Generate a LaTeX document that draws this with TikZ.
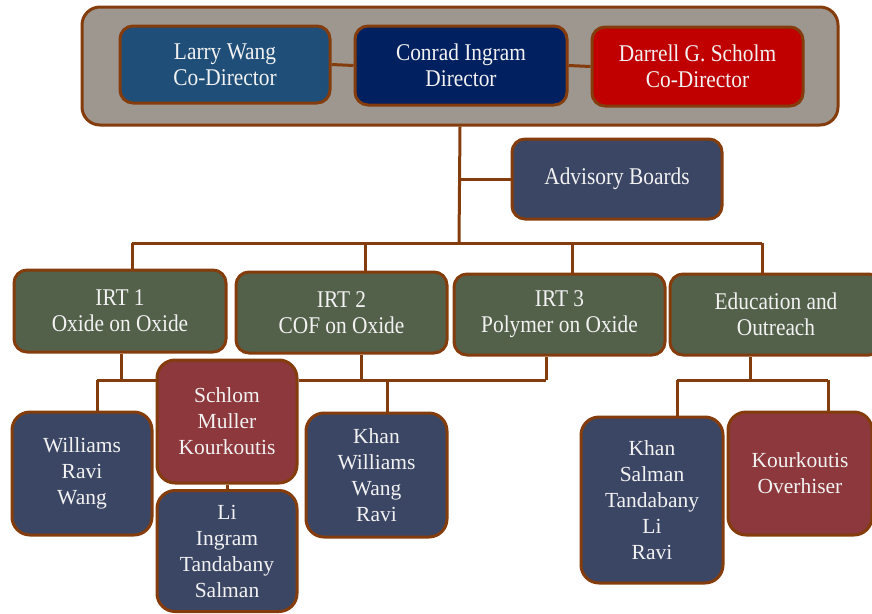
\documentclass[tikz,border=0pt]{standalone}
\usepackage{fontspec}
\setmainfont{Liberation Serif}
\newfontfamily\narrowserif[FakeStretch=0.89]{Liberation Serif}
\definecolor{rim}{RGB}{132,60,12}
\definecolor{shell}{RGB}{158,151,144}
\definecolor{steel}{RGB}{31,78,121}
\definecolor{navy}{RGB}{0,32,96}
\definecolor{crimson}{RGB}{192,0,0}
\definecolor{slate}{RGB}{59,70,100}
\definecolor{olive}{RGB}{83,96,74}
\definecolor{wine}{RGB}{140,56,60}
\begin{document}
\begin{tikzpicture}
  [x=1pt,y=-1pt,
   every node/.style={draw=rim,line width=3pt,rounded corners=13pt,
     text=white!95!black,align=center,inner sep=0pt,
     font=\fontsize{21.5}{26}\selectfont},
   box/.style 2 args={minimum width=#1pt,minimum height=#2pt},
   top/.style={font=\narrowserif\fontsize{24}{26}\selectfont},
   link/.style={draw=rim,line width=3pt},
   lead/.style={fill=navy},
   codir/.style={fill=steel},
   codir2/.style={fill=crimson},
   irt/.style={fill=olive},
   team/.style={fill=slate,rounded corners=18pt},
   core/.style={fill=wine,rounded corners=18pt}]

  \useasboundingbox (0,0) rectangle (872,613);

  % leadership
  \node [fill=shell,box={756}{118},rounded corners=18pt] (board) at (460,66) {};
  \node [codir,top,box={210}{77}] (wang) at (225,64.5) {Larry Wang\\Co-Director};
  \node [lead,top,box={212}{79}] (ingram) at (461,65.5) {Conrad Ingram\\Director};
  \node [codir2,top,box={211}{79}] (scholm) at (697.5,66.5) {Darrell G. Scholm\\Co-Director};
  \draw [link] (wang.east) -- (ingram.west);
  \draw [link] (ingram.east) -- (scholm.west);

  \node [team,top,box={210}{80},rounded corners=13pt] (advisory) at (617,179) {Advisory Boards};

  % research teams
  \node [irt,top,box={212}{82}] (irt1) at (120,311) {IRT 1\\Oxide on Oxide};
  \node [irt,top,box={211}{81}] (irt2) at (341.5,312.5) {IRT 2\\COF on Oxide};
  \node [irt,top,box={211}{81}] (irt3) at (559.5,314.5) {IRT 3\\Polymer on Oxide};
  \node [irt,top,box={212}{81}] (edu) at (776,314.5) {Education and\\Outreach};

  % members
  \node [team,box={140}{123}] (m1) at (82,473.5) {Williams\\Ravi\\Wang};
  \node [core,box={140}{123}] (m2) at (227,421.5) {Schlom\\Muller\\Kourkoutis};
  \node [team,box={140}{121}] (m3) at (227,551) {Li\\Ingram\\Tandabany\\Salman};
  \node [team,box={141}{124}] (m4) at (376.5,475) {Khan\\Williams\\Wang\\Ravi};
  \node [team,box={142}{166}] (m5) at (652,500) {Khan\\Salman\\Tandabany\\Li\\Ravi};
  \node [core,box={144}{123}] (m6) at (800,473.5) {Kourkoutis\\Overhiser};

  % tree
  \coordinate (hub) at (459,243);
  \coordinate (b1) at (132,243);
  \coordinate (b2) at (365,243);
  \coordinate (b3) at (572,243);
  \coordinate (b4) at (762,243);
  \draw [link] (board.south) -- (hub);
  \draw [link] (board.south |- advisory) -- (advisory.west);
  \draw [link] (b1) -- (b4);
  \draw [link] (b1) -- (b1 |- irt1.north);
  \draw [link] (b2) -- (b2 |- irt2.north);
  \draw [link] (b3) -- (b3 |- irt3.north);
  \draw [link] (b4) -- (b4 |- edu.north);

  \coordinate (l1) at (97,380);
  \coordinate (l2) at (546,380);
  \coordinate (t1) at (121,380);
  \coordinate (t2) at (361,380);
  \coordinate (t4) at (387,380);
  \draw [link] (l1) -- (l1 -| m2.west);
  \draw [link] (l2) -- (l2 -| m2.east);
  \draw [link] (l1) -- (l1 |- m1.north);
  \draw [link] (t1) -- (t1 |- irt1.south);
  \draw [link] (t2) -- (t2 |- irt2.south);
  \draw [link] (l2) -- (l2 |- irt3.south);
  \draw [link] (t4) -- (t4 |- m4.north);
  \draw [link] (m2.south) -- (m3.north);

  \coordinate (r1) at (677,380);
  \coordinate (r2) at (828,380);
  \coordinate (t5) at (750,380);
  \draw [link] (r1) -- (r2);
  \draw [link] (t5) -- (t5 |- edu.south);
  \draw [link] (r1) -- (r1 |- m5.north);
  \draw [link] (r2) -- (r2 |- m6.north);
\end{tikzpicture}
\end{document}
